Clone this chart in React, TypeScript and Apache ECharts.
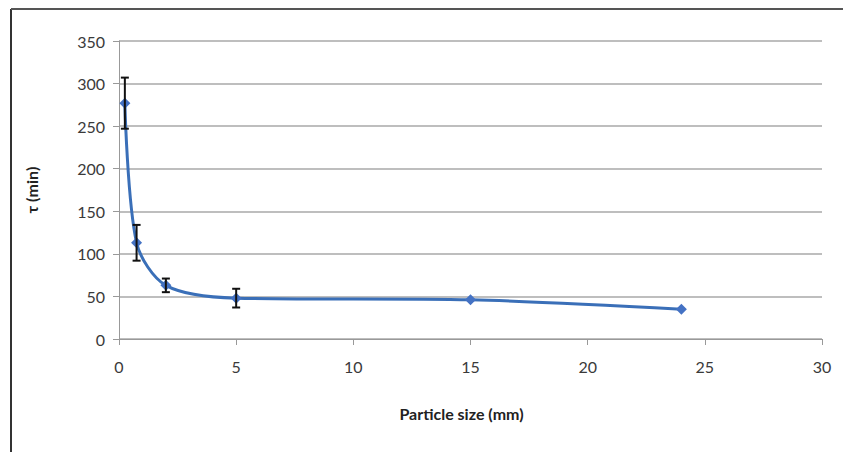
import React, { useEffect, useRef } from "react";
import * as echarts from "echarts";

const particleSize = [0.25, 0.75, 2, 5, 15, 24];
const tau = [277, 113, 63, 48, 46, 35];
const tauErr = [30, 21, 8, 11, 0, 0];
const xTicks = [0, 5, 10, 15, 20, 25, 30];
const yTicks = [0, 50, 100, 150, 200, 250, 300, 350];

const FONT = "Lato, 'Open Sans', sans-serif";

export default function App() {
  const ref = useRef<HTMLDivElement>(null);
  useEffect(() => {
    if (!ref.current) return;
    const chart = echarts.init(ref.current, undefined, { renderer: "svg" });
    const lineData = particleSize.map((x, i) => [x, tau[i]]);
    const errData = particleSize
      .map((x, i) => [x, tau[i] - tauErr[i], tau[i] + tauErr[i]])
      .filter((d, i) => tauErr[i] > 0);
    chart.setOption({
      animation: false,
      backgroundColor: "#ffffff",
      grid: { left: 119, right: 21, top: 41, bottom: 113 },
      graphic: [
        { type: "line", shape: { x1: 11, y1: 9, x2: 11, y2: 452 }, style: { stroke: "#333", lineWidth: 2 } },
        { type: "line", shape: { x1: 11, y1: 9, x2: 843, y2: 9 }, style: { stroke: "#555", lineWidth: 2 } },
      ],
      xAxis: {
        type: "value",
        min: xTicks[0],
        max: xTicks[xTicks.length - 1],
        interval: 5,
        name: "Particle size (mm)",
        nameLocation: "middle",
        nameGap: 66,
        nameTextStyle: { fontFamily: FONT, fontWeight: "bold", fontSize: 16, color: "#222", padding: [0, 18, 0, 0] },
        axisLine: { show: true, lineStyle: { color: "#999", width: 1 } },
        axisTick: { show: true, length: 6, lineStyle: { color: "#999" } },
        axisLabel: { fontFamily: FONT, fontSize: 16, color: "#3a3a3a", margin: 19 },
        splitLine: { show: false },
      },
      yAxis: {
        type: "value",
        min: yTicks[0],
        max: yTicks[yTicks.length - 1],
        interval: 50,
        name: "τ (min)",
        nameLocation: "middle",
        nameGap: 80,
        nameTextStyle: { fontFamily: FONT, fontWeight: "bold", fontSize: 16, color: "#222" },
        axisLine: { show: true, lineStyle: { color: "#999", width: 1 } },
        axisTick: { show: true, length: 6, lineStyle: { color: "#999" } },
        axisLabel: { fontFamily: FONT, fontSize: 16, color: "#3a3a3a", margin: 14 },
        splitLine: { show: true, lineStyle: { color: "#a8a8a8", width: 1.5 } },
      },
      series: [
        {
          type: "line",
          data: lineData,
          smooth: 0.3,
          symbol: "diamond",
          symbolSize: 11,
          lineStyle: { color: "#3a6fb8", width: 3 },
          itemStyle: { color: "#4472c4" },
          z: 3,
        },
        {
          type: "custom",
          data: errData,
          z: 4,
          renderItem: (params: any, api: any) => {
            const x = api.value(0);
            const lo = api.coord([x, api.value(1)]);
            const hi = api.coord([x, api.value(2)]);
            const cap = 4;
            const st = { stroke: "#111", lineWidth: 2 };
            return {
              type: "group",
              children: [
                { type: "line", shape: { x1: lo[0], y1: lo[1], x2: hi[0], y2: hi[1] }, style: st },
                { type: "line", shape: { x1: lo[0] - cap, y1: lo[1], x2: lo[0] + cap, y2: lo[1] }, style: st },
                { type: "line", shape: { x1: hi[0] - cap, y1: hi[1], x2: hi[0] + cap, y2: hi[1] }, style: st },
              ],
            };
          },
        },
      ],
    });
    return () => chart.dispose();
  }, []);
  return (
    <div
      ref={ref}
      style={{ position: "fixed", left: 0, top: 0, width: 843, height: 452 }}
    />
  );
}
